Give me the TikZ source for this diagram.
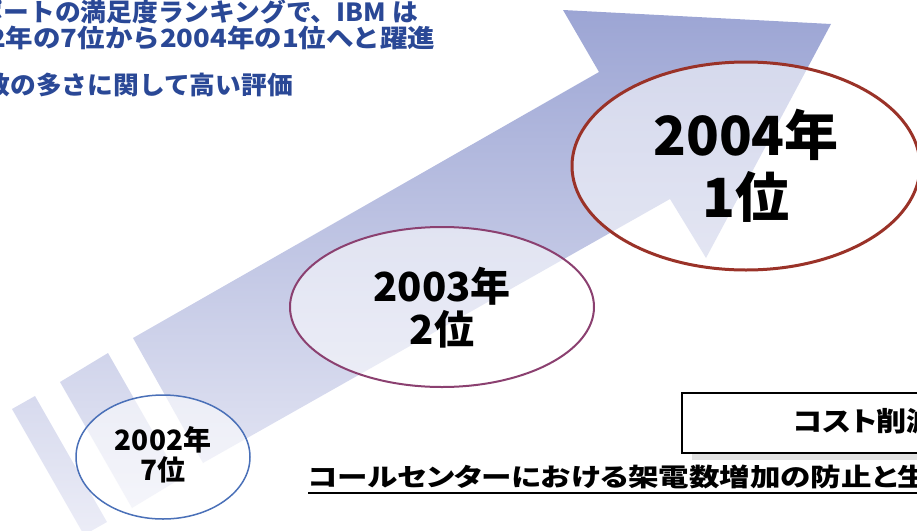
\documentclass[tikz,border=0pt]{standalone}
\usepackage{fontspec}
\setmainfont{Noto Sans CJK JP}
\newfontfamily\jpp[RawFeature=+palt,FakeStretch=1.22]{Noto Sans CJK JP}
\newfontfamily\jpcost[RawFeature=+palt,FakeStretch=1.12]{Noto Sans CJK JP}
\newfontfamily\jpwide[FakeStretch=1.1]{Noto Sans CJK JP}
\newfontfamily\jpwideB[FakeStretch=1.03]{Noto Sans CJK JP}
\definecolor{arrtop}{HTML}{9CA5D4}
\definecolor{arrbot}{HTML}{ECEDF7}
\definecolor{ttlblue}{RGB}{42,72,150}
\definecolor{e1col}{HTML}{4A70B8}
\definecolor{e2col}{HTML}{8B4070}
\definecolor{e3col}{HTML}{9A3228}
\definecolor{shadowgray}{HTML}{E3E3E3}
\tikzset{
  ellfill/.style={fill=white,fill opacity=0.55},
  toptext/.style={inner sep=0pt,text=ttlblue},
  yeartext/.style={inner sep=0pt,align=center,text=black},
}
\begin{document}
\begin{tikzpicture}[x=1pt,y=-1pt]
\useasboundingbox (0,0) rectangle (917,530);
\clip (0,0) rectangle (917,530);
% arrow with stripes
\shade[top color=arrtop,bottom color=arrbot]
  (133,338) -- (599,72) -- (563,10) -- (831,24) -- (706,258) -- (670,199) -- (203,463) -- cycle
  (60,382) -- (108,353) -- (180,479) -- (132,508) -- cycle
  (12,409) -- (35,396) -- (107,522) -- (84,535) -- cycle;
% ellipses
\path[ellfill] (163,457) ellipse [x radius=87,y radius=62];
\draw[e1col,line width=1.5pt] (163,457) ellipse [x radius=87,y radius=62];
\path[ellfill] (442,307) ellipse [x radius=152,y radius=80];
\draw[e2col,line width=2pt] (442,307) ellipse [x radius=152,y radius=80];
\path[ellfill] (746,166) ellipse [x radius=174,y radius=104];
\draw[e3col,line width=3pt] (746,166) ellipse [x radius=174,y radius=104];
\node[yeartext,font=\fontsize{28}{30}\selectfont\bfseries] (y2002) at (163,455) {2002年\\7位};
\node[yeartext,font=\fontsize{40}{43}\selectfont\bfseries] (y2003) at (442,308) {2003年\\2位};
\node[yeartext,font=\fontsize{54}{62}\selectfont\bfseries] (y2004) at (746,166) {2004年\\1位};
% top-left text
\node[toptext,anchor=east,font=\fontsize{25}{28}\selectfont\jpwideB\bfseries] (t1) at (418,12) {ポートの満足度ランキングで、IBM は};
\node[toptext,anchor=west,font=\fontsize{25}{28}\selectfont\jpwide\bfseries] (t2) at (-11,38) {2年の7位から2004年の1位へと躍進};
\node[toptext,anchor=east,font=\fontsize{25}{28}\selectfont\jpwideB\bfseries] (t3) at (293,85) {数の多さに関して高い評価};
% cost box
\fill[shadowgray] (692,400) rectangle (1000,460);
\draw[black,fill=white,line width=1.2pt] (682,393) rectangle (1000,453);
\node[inner sep=0pt,anchor=west,font=\fontsize{27}{30}\selectfont\jpcost\bfseries] (cost) at (793,421) {コスト削減};
% bottom underlined text
\node[inner sep=0pt,anchor=west,font=\fontsize{25}{28}\selectfont\jpp\bfseries] (bt) at (308,477) {コールセンターにおける架電数増加の防止と生};
\draw[line width=2.2pt] ([yshift=-4pt]bt.south west) -- ([yshift=-4pt,xshift=60pt]bt.south east);
\end{tikzpicture}
\end{document}
